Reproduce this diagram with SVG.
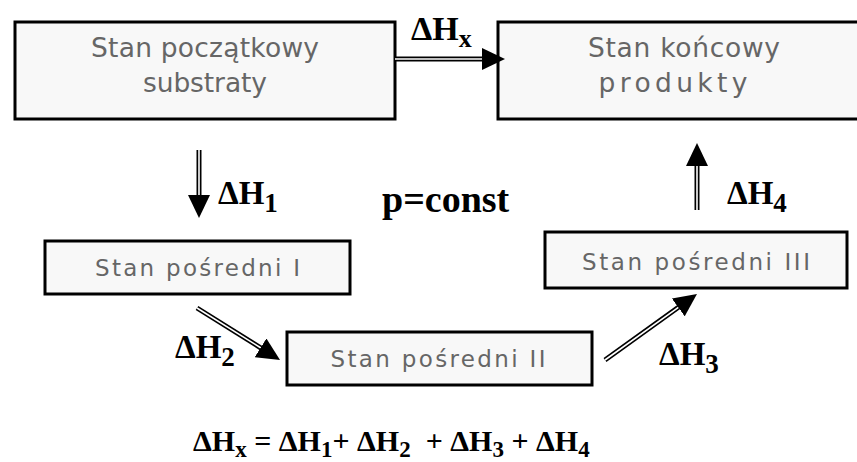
<svg xmlns="http://www.w3.org/2000/svg" width="857" height="462" viewBox="0 0 857 462">
<style>
.box{fill:#f8f8f8;stroke:#000;stroke-width:3}
.bt{font-family:"DejaVu Sans","Noto Sans",sans-serif;fill:#666;text-anchor:middle}
.big{font-size:26.5px}
.sm{font-size:23px}
.shB{fill:none;stroke:#000;stroke-width:5}
.shW{fill:none;stroke:#fff;stroke-width:1.6}
.lab{font-family:"Liberation Serif","Times New Roman",serif;font-weight:bold;fill:#000}
</style>
<defs>
<marker id="ah" viewBox="0 -11 23 22" markerWidth="23" markerHeight="22" refX="1" refY="0" markerUnits="userSpaceOnUse" orient="auto">
<path d="M0,-11 L23,0 L0,11 z" fill="#000"/>
</marker>
</defs>
<g id="n-start">
<rect class="box" x="15" y="22" width="380" height="97"/>
<text class="bt big" x="205" y="57" textLength="228" lengthAdjust="spacing">Stan początkowy</text>
<text class="bt big" x="205" y="92" textLength="124" lengthAdjust="spacing">substraty</text>
</g>
<g id="n-end">
<rect class="box" x="498" y="22" width="372" height="97"/>
<text class="bt big" x="684" y="57" textLength="192" lengthAdjust="spacing">Stan końcowy</text>
<text class="bt big" x="673" y="92" textLength="149" lengthAdjust="spacing">produkty</text>
</g>
<g id="n-p1">
<rect class="box" x="45" y="241" width="305" height="53"/>
<text class="bt sm" x="197.5" y="276" textLength="205" lengthAdjust="spacing">Stan pośredni I</text>
</g>
<g id="n-p2">
<rect class="box" x="287" y="332" width="305" height="53"/>
<text class="bt sm" x="438" y="367" textLength="215" lengthAdjust="spacing">Stan pośredni II</text>
</g>
<g id="n-p3">
<rect class="box" x="545" y="232" width="302" height="56"/>
<text class="bt sm" x="696" y="270" textLength="228" lengthAdjust="spacing">Stan pośredni III</text>
</g>
<g id="connectors">
<path class="shB" d="M395,59 L483,59"/><path class="shW" d="M395,59 L483,59" marker-end="url(#ah)"/>
<path class="shB" d="M199,150 L199,196"/><path class="shW" d="M199,150 L199,196" marker-end="url(#ah)"/>
<path class="shB" d="M697,210 L697,165"/><path class="shW" d="M697,210 L697,165" marker-end="url(#ah)"/>
<path class="shB" d="M197,308 L261.4,348.3"/><path class="shW" d="M197,308 L261.4,348.3" marker-end="url(#ah)"/>
<path class="shB" d="M605,360 L679.1,306.8"/><path class="shW" d="M605,360 L679.1,306.8" marker-end="url(#ah)"/>
</g>
<g id="labels">
<text class="lab" x="411" y="40" font-size="34">ΔH<tspan font-size="26" dy="7">x</tspan></text>
<text class="lab" x="218" y="204" font-size="33">ΔH<tspan font-size="27" dy="8">1</tspan></text>
<text class="lab" x="727" y="204" font-size="33">ΔH<tspan font-size="27" dy="8">4</tspan></text>
<text class="lab" x="175" y="358" font-size="33">ΔH<tspan font-size="27" dy="8">2</tspan></text>
<text class="lab" x="659" y="365" font-size="33">ΔH<tspan font-size="27" dy="8">3</tspan></text>
<text class="lab" x="382" y="212" font-size="38">p=const</text>
<text class="lab" x="193" y="451" font-size="30">ΔH<tspan font-size="23" dy="6">x</tspan><tspan dy="-6"> = ΔH</tspan><tspan font-size="23" dy="6">1</tspan><tspan dy="-6">+ ΔH</tspan><tspan font-size="23" dy="6">2</tspan><tspan dy="-6" xml:space="preserve">  + ΔH</tspan><tspan font-size="23" dy="6">3</tspan><tspan dy="-6"> + ΔH</tspan><tspan font-size="23" dy="6">4</tspan></text>
</g>
</svg>
